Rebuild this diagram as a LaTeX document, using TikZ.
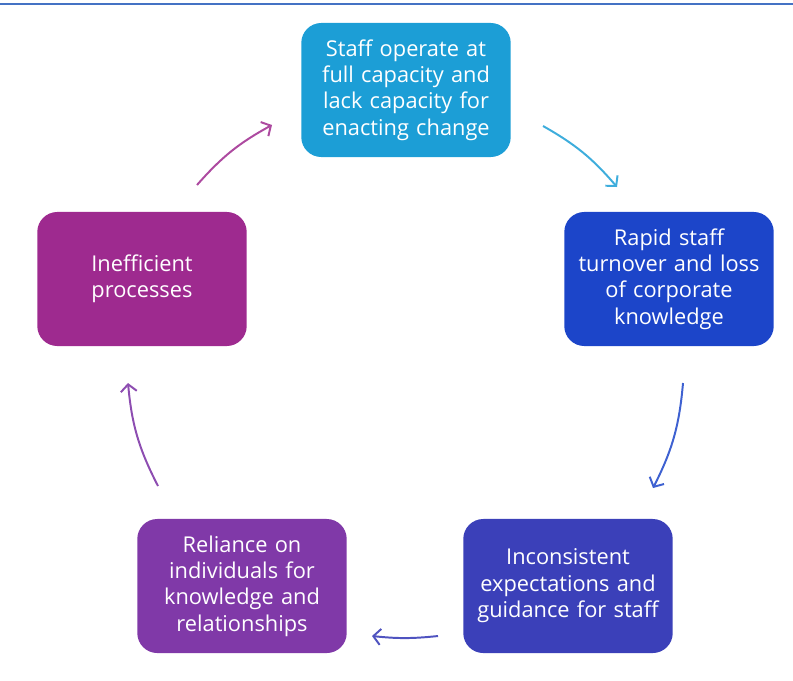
\documentclass[tikz,border=0pt]{standalone}
\usepackage{fontspec}
\setmainfont{Open Sans}
\usetikzlibrary{arrows.meta}

\definecolor{rulecol}{HTML}{4472C4}
\definecolor{staffcol}{HTML}{1C9ED6}
\definecolor{turncol}{HTML}{1C45C9}
\definecolor{guidecol}{HTML}{3B40B9}
\definecolor{relycol}{HTML}{8039A8}
\definecolor{proccol}{HTML}{9E2A8F}

\tikzset{
  cyclebox/.style={rounded corners=0.5cm, minimum width=5.225cm, minimum height=3.35cm,
    text width=5cm, align=center, text=white, font=\fontsize{15.5}{18.8}\selectfont},
  cyclearrow/.style={-{Straight Barb[length=1.8mm,width=4mm]}, line width=1.4pt}
}

\begin{document}
\begin{tikzpicture}[x=0.025cm,y=-0.025cm]
    \useasboundingbox (0,0) rectangle (793,680);
    \draw[rulecol, line width=1.5pt] (0,4) -- (793,4);

    % the five boxes of the cycle
    \node[cyclebox, fill=staffcol] (staff) at (406,90) {Staff operate at\\full capacity and\\lack capacity for\\enacting change};
    \node[cyclebox, fill=turncol] (turnover) at (669,279) {Rapid staff\\turnover and loss\\of corporate\\knowledge};
    \node[cyclebox, fill=guidecol] (guidance) at (568,586) {Inconsistent\\expectations and\\guidance for staff};
    \node[cyclebox, fill=relycol] (reliance) at (242,586) {Reliance on\\individuals for\\knowledge and\\relationships};
    \node[cyclebox, fill=proccol] (process) at (142,279) {Inefficient\\processes};

    % ends of the arrows
    \coordinate (a1) at (543,126);
    \coordinate (b1) at (617,187);
    \coordinate (a2) at (683,383);
    \coordinate (b2) at (653,488);
    \coordinate (a3) at (438,636);
    \coordinate (b3) at (372,636);
    \coordinate (a4) at (158,486);
    \coordinate (b4) at (128,383);
    \coordinate (a5) at (197,185);
    \coordinate (b5) at (272,125);

    \draw[cyclearrow, color=staffcol!85!white] (a1) to[bend left=10] (b1);
    \draw[cyclearrow, color=turncol!85!white] (a2) to[bend left=11] (b2);
    \draw[cyclearrow, color=guidecol!90!white] (a3) to[bend left=6] (b3);
    \draw[cyclearrow, color=relycol!90!white] (a4) to[bend left=11] (b4);
    \draw[cyclearrow, color=proccol!85!white] (a5) to[bend left=10] (b5);
\end{tikzpicture}
\end{document}
